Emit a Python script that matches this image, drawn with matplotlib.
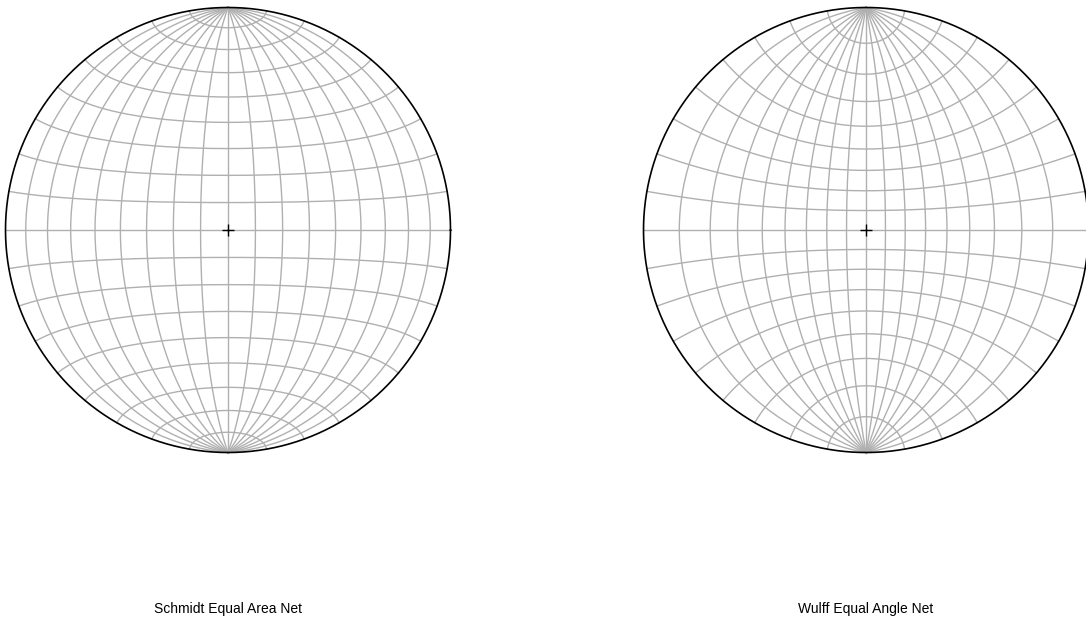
import numpy as np
import matplotlib
matplotlib.use("Agg")
import matplotlib.pyplot as plt

plt.rcParams["font.family"] = ["Liberation Sans", "DejaVu Sans"]

# grid spacing of the nets, in degrees
meridians = [-80, -70, -60, -50, -40, -30, -20, -10, 0, 10, 20, 30, 40, 50, 60, 70, 80]
parallels = [-80, -70, -60, -50, -40, -30, -20, -10, 0, 10, 20, 30, 40, 50, 60, 70, 80]
net_titles = ["Schmidt Equal Area Net", "Wulff Equal Angle Net"]
net_kinds = ["area", "angle"]

W, H = 1086, 627
centers = [(228, 230), (866, 230)]
R = 222.5


def project(lon, lat, kind):
    # transverse net: poles at top and bottom
    lon = np.radians(lon)
    lat = np.radians(lat)
    x = np.cos(lat) * np.sin(lon)
    y = np.sin(lat)
    z = np.cos(lat) * np.cos(lon)
    if kind == "area":
        k = 1.0 / np.sqrt(1.0 + z)
    else:
        k = 1.0 / (1.0 + z)
    return k * x, k * y


fig = plt.figure(figsize=(W / 100, H / 100), dpi=100)
fig.set_facecolor("white")

t = np.linspace(-90, 90, 361)
for (cx, cy), kind, title in zip(centers, net_kinds, net_titles):
    ax = fig.add_axes([(cx - R) / W, (H - cy - R) / H, 2 * R / W, 2 * R / H])
    ax.set_xlim(-1, 1)
    ax.set_ylim(-1, 1)
    ax.axis("off")

    for lon in meridians:
        px, py = project(np.full_like(t, lon), t, kind)
        ax.plot(px, py, color="#b0b0b0", lw=1.0, zorder=1, clip_on=False)
    for lat in parallels:
        px, py = project(t, np.full_like(t, lat), kind)
        ax.plot(px, py, color="#b0b0b0", lw=1.0, zorder=1, clip_on=False)

    a = np.linspace(0, 2 * np.pi, 721)
    ax.plot(np.cos(a), np.sin(a), color="black", lw=1.2, zorder=3, clip_on=False)
    ax.plot([0], [0], marker="+", color="black", ms=8, mew=1.0, zorder=4)

    fig.text(cx / W, (H - 613) / H, title, ha="center", va="baseline", fontsize=10)

fig.savefig("out.png", dpi=100)
plt.close(fig)
